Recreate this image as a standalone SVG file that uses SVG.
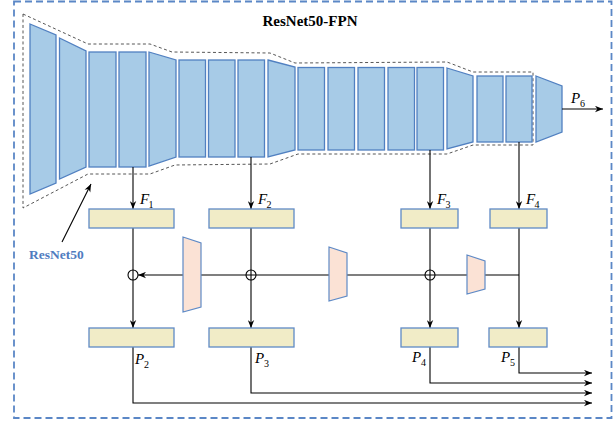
<svg xmlns="http://www.w3.org/2000/svg" width="613" height="421" viewBox="0 0 613 421">
<defs>
<marker id="arr" viewBox="0 0 10 8" refX="10" refY="4" markerWidth="8" markerHeight="7" markerUnits="userSpaceOnUse" orient="auto">
<path d="M0,0 L10,4 L0,8 L3,4 Z" fill="#000"/>
</marker>
<style>
.blk{fill:#a7cbe7;stroke:#5180c1;stroke-width:1.3}
.box{fill:#f1ecc7;stroke:#5f8ac6;stroke-width:1.3}
.up{fill:#fbe2d5;stroke:#5f8ac6;stroke-width:1.2}
.ln{fill:none;stroke:#000;stroke-width:1.1}
.arw{fill:none;stroke:#000;stroke-width:1.1;marker-end:url(#arr)}
.lbl{font-family:"Liberation Serif",serif;font-style:italic;font-size:15px;fill:#000}
.sub{font-family:"Liberation Serif",serif;font-size:10px;fill:#000}
</style>
</defs>
<rect x="14" y="1.5" width="597.5" height="416.5" fill="none" stroke="#5b87c6" stroke-width="1.8" stroke-dasharray="7,4"/>
<text x="310" y="26" text-anchor="middle" font-family="Liberation Serif,serif" font-weight="bold" font-size="15">ResNet50-FPN</text>
<g id="resnet50">
<path d="M23,14 L88,44 L150,44 L172,52 L270,53 L295,63 L447,62 L473,72 L533,72 L533,145 L473,145 L447,154 L298,154 L270,164 L175,165 L150,174 L88,174 L23,208 Z" fill="none" stroke="#444" stroke-width="0.9" stroke-dasharray="3,2.5"/>
<polygon class="blk" points="30,24 56,35 56,183 30,194"/>
<polygon class="blk" points="59.5,38 86,51 86,167 59.5,179"/>
<rect class="blk" x="89" y="52" width="27" height="115"/>
<rect class="blk" x="119" y="52" width="27" height="115"/>
<polygon class="blk" points="149,52 176,60 176,157 149,166"/>
<rect class="blk" x="179" y="60" width="26.5" height="97"/>
<rect class="blk" x="208.5" y="60" width="26.5" height="97"/>
<rect class="blk" x="238" y="60" width="26.5" height="97"/>
<polygon class="blk" points="268,60 295,67 295,150 268,157"/>
<rect class="blk" x="298" y="67.5" width="26.5" height="82.5"/>
<rect class="blk" x="328" y="67.5" width="26.5" height="82.5"/>
<rect class="blk" x="358" y="67.5" width="26.5" height="82.5"/>
<rect class="blk" x="388" y="67.5" width="26.5" height="82.5"/>
<rect class="blk" x="417" y="67.5" width="26.5" height="82.5"/>
<polygon class="blk" points="447,68 473,76 473,142 447,149"/>
<rect class="blk" x="477" y="76" width="26" height="66"/>
<rect class="blk" x="506" y="76" width="26" height="66"/>
<polygon class="blk" points="536,76 562,86 562,132 536,142"/>
</g>
<g id="resnet50-label">
<text x="29" y="259" font-family="Liberation Serif,serif" font-weight="bold" font-size="13.5" fill="#4f7cbf">ResNet50</text>
</g>
<g id="connectors">
<path class="arw" d="M62,242 L91,184"/>
<path class="arw" d="M562,109 L603,109"/>
<path class="arw" d="M133,167 L133,209"/>
<path class="arw" d="M251,157 L251,209"/>
<path class="arw" d="M430,150 L430,209"/>
<path class="arw" d="M519,142 L519,209"/>
<path class="arw" d="M133,228 L133,328"/>
<path class="arw" d="M251,228 L251,328"/>
<path class="arw" d="M430,228 L430,328"/>
<path class="arw" d="M519,228 L519,328"/>
<path class="arw" d="M519,275 L138,275"/>
<path class="arw" d="M133,347 L133,403 L592,403"/>
<path class="arw" d="M251,347 L251,393 L592,393"/>
<path class="arw" d="M430,347 L430,383 L592,383"/>
<path class="arw" d="M519,347 L519,373 L592,373"/>
<circle class="ln" cx="133" cy="275" r="5"/>
<circle class="ln" cx="251" cy="275" r="5"/>
<circle class="ln" cx="430" cy="275" r="5"/>
</g>
<g id="up1"><polygon class="up" points="183,237 201,243 201,307 183,312"/></g>
<g id="up2"><polygon class="up" points="329,247 347,253 347,296 329,301"/></g>
<g id="up3"><polygon class="up" points="467,255 485,261 485,289 467,294"/></g>
<g id="f1box"><rect class="box" x="89" y="209" width="85" height="19"/></g>
<g id="f2box"><rect class="box" x="209" y="209" width="85" height="19"/></g>
<g id="f3box"><rect class="box" x="401" y="209" width="57" height="19"/></g>
<g id="f4box"><rect class="box" x="490" y="209" width="57" height="19"/></g>
<g id="p2box"><rect class="box" x="89" y="328" width="85" height="19"/></g>
<g id="p3box"><rect class="box" x="209" y="328" width="85" height="19"/></g>
<g id="p4box"><rect class="box" x="401" y="328" width="57" height="19"/></g>
<g id="p5box"><rect class="box" x="489" y="328" width="58" height="19"/></g>
<g id="labels">
<text class="lbl" x="140" y="204">F</text><text class="sub" x="148.5" y="208">1</text>
<text class="lbl" x="258" y="204">F</text><text class="sub" x="266.5" y="208">2</text>
<text class="lbl" x="437" y="204">F</text><text class="sub" x="445.5" y="208">3</text>
<text class="lbl" x="526" y="204">F</text><text class="sub" x="534.5" y="208">4</text>
<text class="lbl" x="571" y="103">P</text><text class="sub" x="580" y="107">6</text>
<text class="lbl" x="135" y="364">P</text><text class="sub" x="144" y="368">2</text>
<text class="lbl" x="255" y="363">P</text><text class="sub" x="264" y="367">3</text>
<text class="lbl" x="412" y="362">P</text><text class="sub" x="421" y="366">4</text>
<text class="lbl" x="501" y="362">P</text><text class="sub" x="510" y="366">5</text>
</g>
</svg>
